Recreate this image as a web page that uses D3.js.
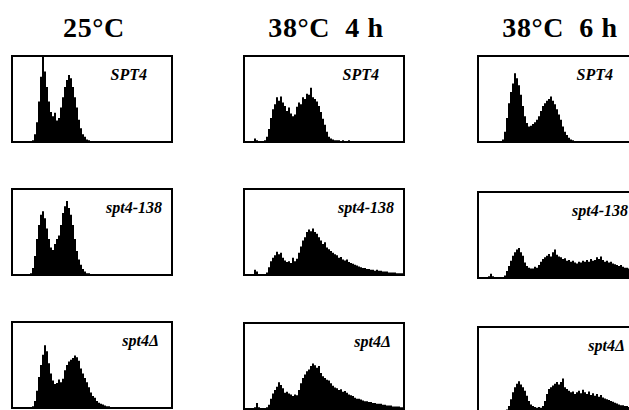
<!DOCTYPE html>
<html>
<head>
<meta charset="utf-8">
<script src="https://cdn.jsdelivr.net/npm/d3@7"></script>
<style>
  html, body { margin: 0; padding: 0; background: #fff; }
  svg { display: block; }
</style>
</head>
<body>
<svg id="chart" width="629" height="410"></svg>
<script>
// ---- Data (DNA content histograms, counts as % of panel full scale, 80 channels) ----
const conditions = ["25°C", "38°C  4 h", "38°C  6 h"];
const strains = ["SPT4", "spt4-138", "spt4\u0394"];
const channelCount = 80;

const spt4_25C = [0,0,0,0,0,0,0,0,0,0, 2,9,23,47,76,100,82,64,47,35, 30,34,25,28,40,52,64,72,78,74, 64,52,40,26,16,9,6,3,2,1, 0,0,0,0,0,0,0,0,0,0, 0,0,0,0,0,0,0,0,0,0, 0,0,0,0,0,0,0,0,0,0, 0,0,0,0,0,0,0,0,0,0];
const spt4_38C4h = [0,1,1,1,0,4,2,1,1,1, 2,6,15,28,38,44,52,48,53,46, 42,36,40,33,30,32,41,46,44,52, 50,56,55,63,52,50,47,42,35,27, 20,12,6,4,3,2,2,2,1,2, 1,1,2,1,1,1,1,1,1,1, 1,1,1,1,1,1,1,1,1,0, 0,0,0,0,0,0,0,0,0,0];
const spt4_38C6h = [0,1,1,1,1,1,1,1,1,1, 1,1,3,12,28,45,58,68,80,74, 66,55,42,30,22,18,19,21,23,26, 30,36,42,45,48,50,53,48,44,38, 32,26,18,12,8,5,3,2,1,1, 1,1,1,1,1,1,1,1,1,1, 1,0,0,0,0,0,0,0,0,0, 0,0,0,0,0,0,0,0,0,0];

const spt4_138_25C = [0,0,0,0,0,0,0,0,0,2, 8,22,42,58,70,74,66,54,42,32, 29,36,42,46,58,72,80,86,78,70, 58,42,28,18,12,7,4,2,2,1, 1,1,0,0,0,0,0,0,0,0, 0,0,0,0,0,0,0,0,0,0, 0,0,0,0,0,0,0,0,0,0, 0,0,0,0,0,0,0,0,0,0];
const spt4_138_38C4h = [0,1,1,1,1,6,4,1,1,1, 1,3,9,16,20,23,27,24,26,20, 17,15,16,14,20,16,19,26,33,40, 44,50,53,51,54,50,48,44,40,36, 38,32,30,28,26,24,23,20,21,18, 17,18,15,14,13,12,11,10,9,8, 8,7,7,6,6,5,6,5,5,4, 4,4,3,3,3,3,2,2,2,2];
const spt4_138_38C6h = [0,1,1,1,1,2,5,2,1,1, 1,1,1,3,8,14,20,26,30,33, 35,30,26,18,14,12,11,11,13,12, 15,19,22,24,26,28,25,30,33,27, 25,24,22,23,20,21,19,20,18,17, 19,18,20,19,21,19,22,20,21,24, 22,25,21,19,20,18,19,17,16,15, 14,15,13,12,12,11,10,9,8,8];

const spt4d_25C = [0,0,0,0,0,0,0,0,0,0, 2,8,20,36,50,62,73,66,52,40, 32,28,29,33,30,34,44,50,54,56, 58,61,59,55,46,40,35,30,24,18, 14,12,8,6,5,4,3,2,2,1, 1,0,0,0,0,0,0,0,0,0, 0,0,0,0,0,0,0,0,0,0, 0,0,0,0,0,0,0,0,0,0];
const spt4d_38C4h = [0,1,1,1,1,2,7,2,1,1, 1,2,5,12,18,22,26,31,28,24, 19,20,18,17,15,17,16,22,30,36, 40,44,46,50,53,51,48,50,42,38, 36,34,33,30,27,25,24,22,23,20, 21,19,17,16,15,13,12,12,11,10, 9,9,8,8,7,7,6,6,6,5, 5,4,4,4,3,3,3,3,2,2];
const spt4d_38C6h = [0,0,1,1,1,1,1,1,1,1, 1,1,1,2,4,8,16,24,30,34, 37,33,30,26,20,14,10,8,7,6, 7,6,8,14,22,28,30,32,34,36, 33,36,40,30,28,26,24,25,22,24, 26,23,27,24,22,25,21,23,20,22, 19,21,18,17,16,15,14,13,12,11, 10,9,9,8,8,7,7,6,6,5];

// rows = strains, cols = conditions
const histograms = [
  [spt4_25C, spt4_38C4h, spt4_38C6h],
  [spt4_138_25C, spt4_138_38C4h, spt4_138_38C6h],
  [spt4d_25C, spt4d_38C4h, spt4d_38C6h]
];

// ---- Layout ----
const boxW = 160, boxH = 86;
const colLeft = [12, 244, 478];
const rowTops = [[56, 56, 56], [189, 189, 192], [322, 323, 327]];
const labelRight = [135, 150, 147];
const titleY = 37;

const svg = d3.select("#chart");

const x = d3.scaleLinear().domain([0, channelCount]).range([0, boxW]);
const y = d3.scaleLinear().domain([0, 100]).range([boxH, 0]);

const area = d3.area()
  .curve(d3.curveStepAfter)
  .x(d => x(d.ch))
  .y0(boxH)
  .y1(d => y(d.v));

// titles
svg.selectAll("text.title")
  .data(conditions)
  .join("text")
  .attr("class", "title")
  .attr("x", (d, i) => colLeft[i] + boxW / 2 + 2)
  .attr("y", titleY)
  .attr("text-anchor", "middle")
  .attr("font-family", "'Liberation Serif', 'Times New Roman', serif")
  .attr("font-weight", "bold")
  .attr("font-size", 28)
  .attr("letter-spacing", 0.6)
  .style("white-space", "pre")
  .attr("fill", "#000")
  .text(d => d);

const defs = svg.append("defs");

histograms.forEach((row, r) => {
  row.forEach((counts, c) => {
    const g = svg.append("g")
      .attr("transform", `translate(${colLeft[c]},${rowTops[r][c]})`);
    const clipId = `clip-${r}-${c}`;
    defs.append("clipPath").attr("id", clipId)
      .append("rect").attr("x", 0).attr("y", 0).attr("width", boxW).attr("height", boxH);

    const pts = counts.map((v, i) => ({ ch: i, v }));
    pts.push({ ch: channelCount, v: counts[counts.length - 1] });

    g.append("path")
      .datum(pts)
      .attr("clip-path", `url(#${clipId})`)
      .attr("d", area)
      .attr("fill", "#000");

    g.append("rect")
      .attr("x", 0).attr("y", 0)
      .attr("width", boxW).attr("height", boxH)
      .attr("fill", "none")
      .attr("stroke", "#000")
      .attr("stroke-width", 2);

    g.append("text")
      .attr("x", labelRight[r])
      .attr("y", 24)
      .attr("text-anchor", "end")
      .attr("font-family", "'Liberation Serif', 'Times New Roman', serif")
      .attr("font-weight", "bold")
      .attr("font-style", "italic")
      .attr("font-size", 16)
      .attr("fill", "#000")
      .text(strains[r]);
  });
});
</script>
</body>
</html>
